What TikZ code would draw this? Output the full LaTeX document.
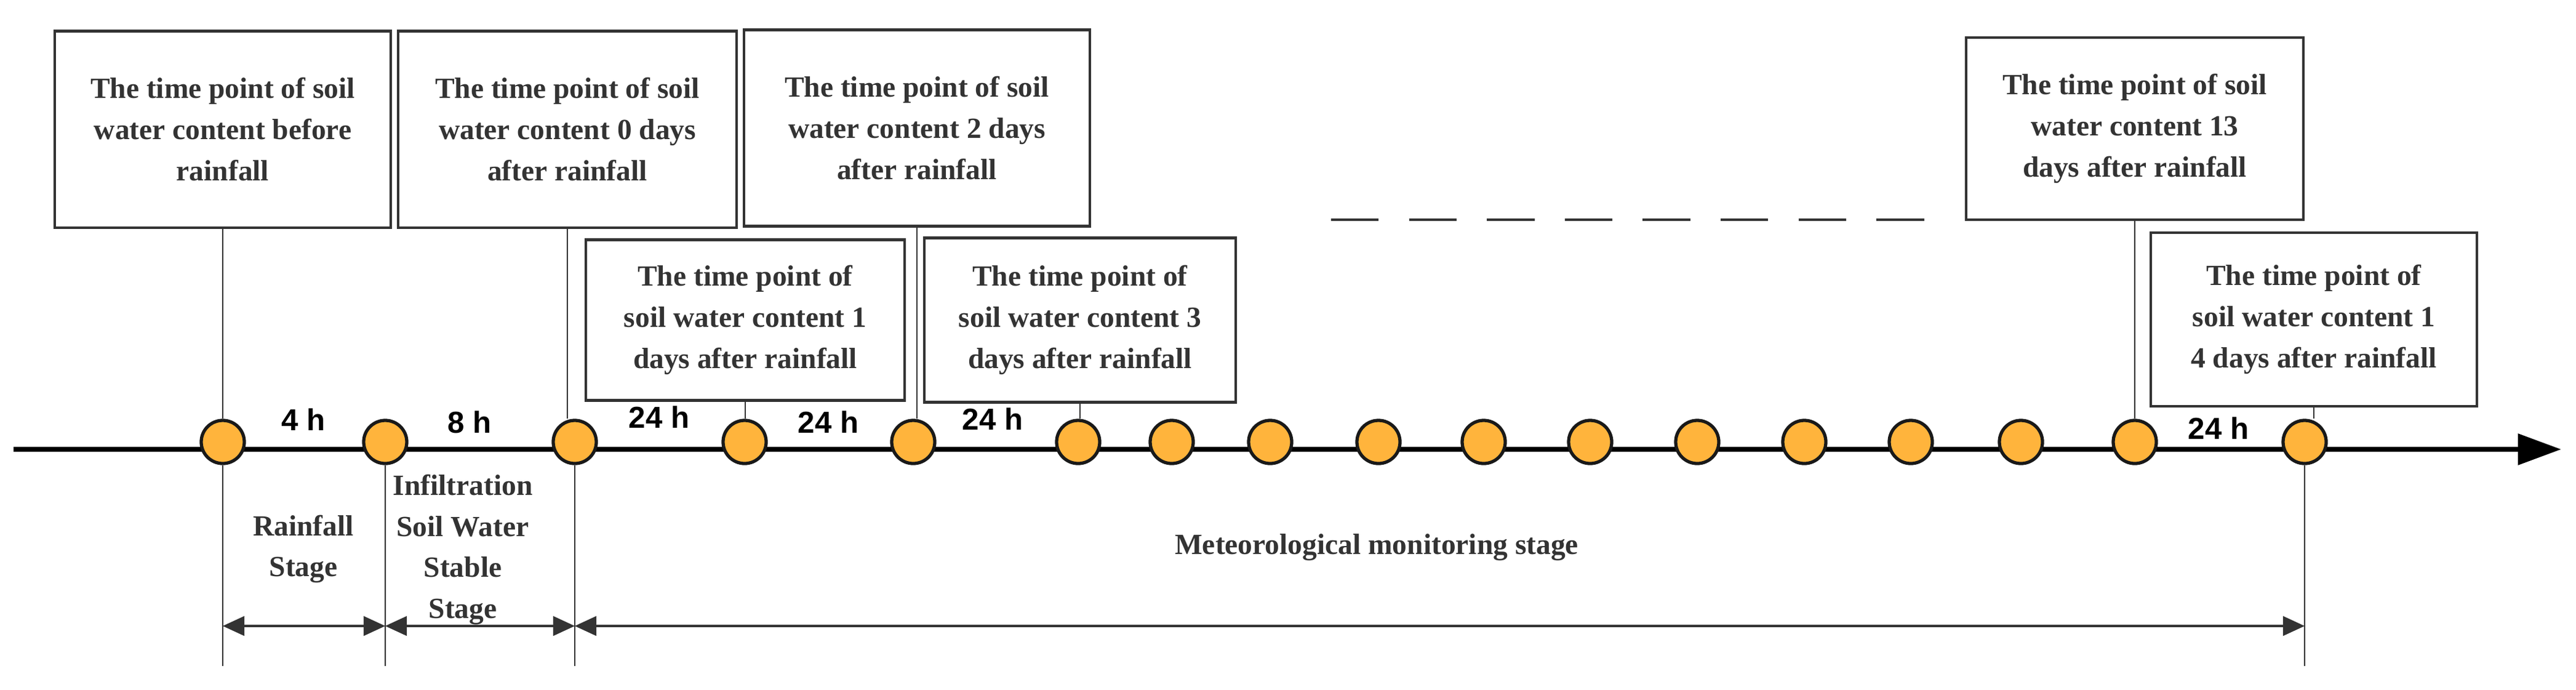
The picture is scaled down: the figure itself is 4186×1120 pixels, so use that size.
\documentclass[tikz,border=0pt]{standalone}
\usepackage{fontspec}
\setmainfont{Liberation Serif}
\newfontfamily\hfont{Liberation Sans}
\usetikzlibrary{arrows.meta}
\definecolor{dotfill}{HTML}{FFB43C}
\definecolor{edge}{HTML}{333333}

\tikzset{
  tbox/.style={draw=edge, line width=1.2pt, align=center, inner sep=2pt,
    font=\bfseries\fontsize{13.5}{19}\selectfont, text=edge},
  tdot/.style={circle, draw=black!90, line width=1.5pt, fill=dotfill, minimum size=0.7cm, inner sep=0pt},
  hlabel/.style={font=\hfont\bfseries\fontsize{14}{16}\selectfont},
  slabel/.style={align=center, font=\bfseries\fontsize{13.5}{19}\selectfont, text=edge},
  lead/.style={draw=edge, line width=0.8pt},
  span/.style={draw=edge, line width=0.9pt, {Triangle[length=10pt,width=9pt]}-{Triangle[length=10pt,width=9pt]}}
}

\begin{document}
\begin{tikzpicture}[x=0.01cm, y=-0.01cm]
  \useasboundingbox (0,0) rectangle (4186,1120);

  % time axis
  \coordinate (a0) at (22,730);
  \coordinate (a1) at (4162,730);
  \draw[line width=2.4pt, -{Triangle[length=20pt,width=14pt]}] (a0) -- (a1);

  % points on the axis
  \foreach \x [count=\i] in {362,626,934,1210,1484,1752,1904,2064,2240,2411,2584,2758,2932,3105,3284,3469,3745}
    \node[tdot] (p\i) at (\x,718) {};

  % boxes
  \node[tbox, minimum width=5.45cm, minimum height=3.19cm] (b0) at (362,210)
    {The time point of soil\\water content before\\rainfall};
  \node[tbox, minimum width=5.49cm, minimum height=3.19cm] (b1) at (922,210)
    {The time point of soil\\water content 0 days\\after rainfall};
  \node[tbox, minimum width=5.61cm, minimum height=3.19cm] (b2) at (1490,208)
    {The time point of soil\\water content 2 days\\after rainfall};
  \node[tbox, minimum width=5.18cm, minimum height=2.61cm] (b1d) at (1211,520)
    {The time point of\\soil water content 1\\days after rainfall};
  \node[tbox, minimum width=5.05cm, minimum height=2.67cm] (b3) at (1755,520)
    {The time point of\\soil water content 3\\days after rainfall};
  \node[tbox, minimum width=5.48cm, minimum height=2.96cm] (b13) at (3469,209)
    {The time point of soil\\water content 13\\days after rainfall};
  \node[tbox, minimum width=5.29cm, minimum height=2.82cm] (b14) at (3760,519)
    {The time point of\\soil water content 1\\4 days after rainfall};

  % leads from boxes to points
  \draw[lead] (b0.south) -- (b0.south |- p1.north);
  \draw[lead] (b1.south) -- (b1.south |- p3.north);
  \draw[lead] (b1d.south) -- (b1d.south |- p4.north);
  \draw[lead] (b2.south) -- (b2.south |- p5.north);
  \draw[lead] (b3.south) -- (b3.south |- p6.north);
  \draw[lead] (b13.south) -- (b13.south |- p16.north);
  \draw[lead] (b14.south) -- (b14.south |- p17.north);

  % dashed continuation
  \coordinate (d0) at (2163,357);
  \coordinate (d1) at (3148,357);
  \draw[edge, line width=1.2pt, dash pattern=on 22pt off 14pt] (d0) -- (d1);

  % durations
  \node[hlabel] at (493,682) {4 h};
  \node[hlabel] at (763,686) {8 h};
  \node[hlabel] at (1071,678) {24 h};
  \node[hlabel] at (1346,686) {24 h};
  \node[hlabel] at (1613,681) {24 h};
  \node[hlabel] at (3605,696) {24 h};

  % stage markers
  \coordinate (e1) at (362,1082);
  \coordinate (e2) at (626,1082);
  \coordinate (e3) at (934,1082);
  \coordinate (e4) at (3745,1082);
  \draw[lead] (p1.south) -- (e1);
  \draw[lead] (p2.south) -- (e2);
  \draw[lead] (p3.south) -- (e3);
  \draw[lead] (p17.south) -- (e4);
  \draw[span] (362,1017) -- (626,1017);
  \draw[span] (626,1017) -- (934,1017);
  \draw[span] (934,1017) -- (3745,1017);

  \node[slabel] at (493,892) {Rainfall\\Stage};
  \node[slabel] at (752,893) {Infiltration\\Soil Water\\Stable\\Stage};
  \node[slabel] at (2237,889) {Meteorological monitoring stage};
\end{tikzpicture}
\end{document}
